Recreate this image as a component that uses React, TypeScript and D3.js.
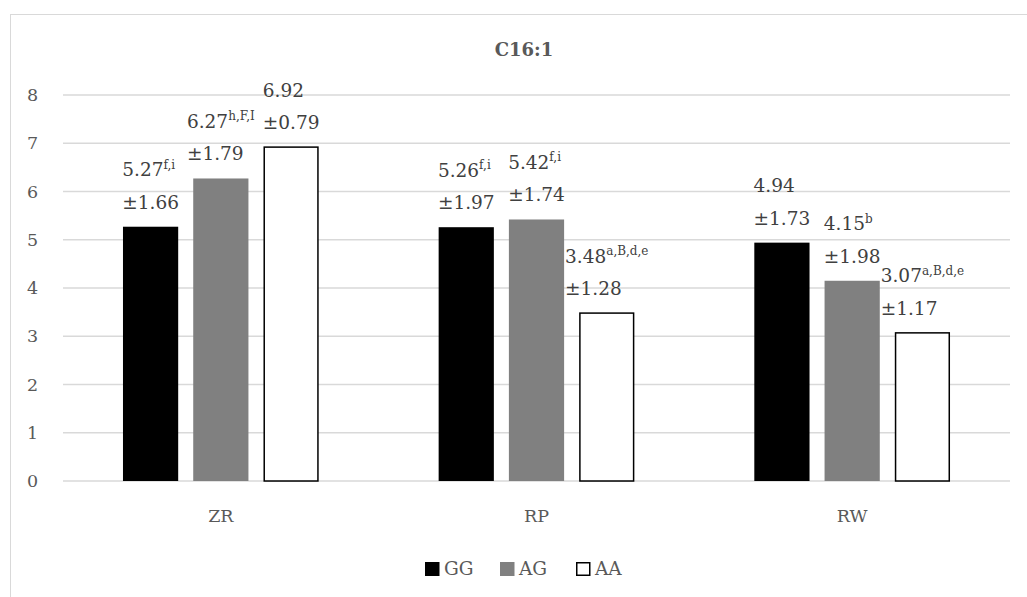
import React from "react";
import * as d3 from "d3";

const categories = ["ZR", "RP", "RW"];
const seriesNames = ["GG", "AG", "AA"];
const seriesFill = ["#000000", "#808080", "#ffffff"];
// mean values per category, one array per genotype
const valuesGG = [5.27, 5.26, 4.94];
const valuesAG = [6.27, 5.42, 4.15];
const valuesAA = [6.92, 3.48, 3.07];
// standard deviations
const sdGG = [1.66, 1.97, 1.73];
const sdAG = [1.79, 1.74, 1.98];
const sdAA = [0.79, 1.28, 1.17];
// significance letters
const supGG = ["f,i", "f,i", ""];
const supAG = ["h,F,I", "f,i", "b"];
const supAA = ["", "a,B,d,e", "a,B,d,e"];
const yTicks = [0, 1, 2, 3, 4, 5, 6, 7, 8];

const W = 1027;
const H = 597;
const FONT = "DejaVu Serif";
const LABEL_SIZE = 18.5;
const SUP_SIZE = 12;
const AXIS_SIZE = 17.5;
const LEGEND_SIZE = 18.5;

let ctx: CanvasRenderingContext2D | null = null;
function measure(text: string, size: number): number {
  if (!ctx) ctx = document.createElement("canvas").getContext("2d");
  if (!ctx) return text.length * size * 0.5;
  ctx.font = `${size}px "${FONT}"`;
  return ctx.measureText(text).width;
}

export default function App() {
  const left = 63;
  const right = 1010;
  const y = d3.scaleLinear().domain([0, 8]).range([481, 95]);
  const x0 = d3
    .scaleBand<string>()
    .domain(categories)
    .range([left, right])
    .paddingInner(0.38)
    .paddingOuter(0.19);
  const x1 = d3
    .scaleBand<string>()
    .domain(seriesNames)
    .range([0, x0.bandwidth()])
    .paddingInner(0.214);

  const values = [valuesGG, valuesAG, valuesAA];
  const sds = [sdGG, sdAG, sdAA];
  const sups = [supGG, supAG, supAA];

  const legendX = [425, 500, 576];

  return (
    <div style={{ position: "absolute", left: 0, top: 0 }}>
      <svg width={W} height={H} style={{ display: "block", background: "#fff", fontFamily: FONT }}>
        <rect x={10.5} y={14.5} width={1030} height={600} fill="#fff" stroke="#d9d9d9" strokeWidth={1} />
        <text
          x={524}
          y={49}
          textAnchor="middle"
          dominantBaseline="central"
          fontSize={18}
          fontWeight="bold"
          fill="#595959"
        >
          C16:1
        </text>
        {yTicks.map((t) => (
          <g key={t}>
            <line x1={left} x2={right} y1={y(t)} y2={y(t)} stroke="#d9d9d9" strokeWidth={1.5} />
            <text
              x={32.5}
              y={y(t)}
              textAnchor="middle"
              dominantBaseline="central"
              fontSize={AXIS_SIZE}
              fill="#595959"
            >
              {t}
            </text>
          </g>
        ))}
        {categories.map((c, ci) => (
          <g key={c} transform={`translate(${x0(c)},0)`}>
            {seriesNames.map((s, si) => {
              const v = values[si][ci];
              const bx = x1(s) as number;
              const bw = x1.bandwidth();
              const isOutline = seriesFill[si] === "#ffffff";
              return (
                <rect
                  key={s}
                  x={bx + (isOutline ? 0.75 : 0)}
                  y={y(v)}
                  width={bw - (isOutline ? 1.5 : 0)}
                  height={y(0) - y(v)}
                  fill={seriesFill[si]}
                  stroke={isOutline ? "#000" : "none"}
                  strokeWidth={1.5}
                />
              );
            })}
            {seriesNames.map((s, si) => {
              const v = values[si][ci];
              const line1 = v.toFixed(2);
              const sup = sups[si][ci];
              const line2 = "±" + sds[si][ci].toFixed(2);
              const w1 = measure(line1, LABEL_SIZE) + (sup ? measure(sup, SUP_SIZE) : 0);
              const w2 = measure(line2, LABEL_SIZE);
              const bw = Math.max(w1, w2);
              const cx = (x1(s) as number) + x1.bandwidth() / 2;
              const lx = cx - bw / 2;
              const top = y(v);
              return (
                <g key={"l" + s} fill="#404040">
                  <text x={lx} y={top - 57} dominantBaseline="central" fontSize={LABEL_SIZE}>
                    {line1}
                    {sup && (
                      <tspan fontSize={SUP_SIZE} dy={-5}>
                        {sup}
                      </tspan>
                    )}
                  </text>
                  <text x={lx} y={top - 24.5} dominantBaseline="central" fontSize={LABEL_SIZE}>
                    {line2}
                  </text>
                </g>
              );
            })}
            <text
              x={x0.bandwidth() / 2}
              y={516}
              textAnchor="middle"
              dominantBaseline="central"
              fontSize={AXIS_SIZE}
              fill="#595959"
            >
              {c}
            </text>
          </g>
        ))}
        {seriesNames.map((s, si) => (
          <g key={"leg" + s}>
            <rect
              x={legendX[si] + (si === 2 ? 0.75 : 0)}
              y={562 + (si === 2 ? 0.75 : 0)}
              width={14.5 - (si === 2 ? 1.5 : 0)}
              height={14 - (si === 2 ? 1.5 : 0)}
              fill={seriesFill[si]}
              stroke={si === 2 ? "#000" : "none"}
              strokeWidth={1.5}
            />
            <text
              x={legendX[si] + 19}
              y={568.5}
              dominantBaseline="central"
              fontSize={LEGEND_SIZE}
              fill="#595959"
            >
              {s}
            </text>
          </g>
        ))}
      </svg>
    </div>
  );
}
